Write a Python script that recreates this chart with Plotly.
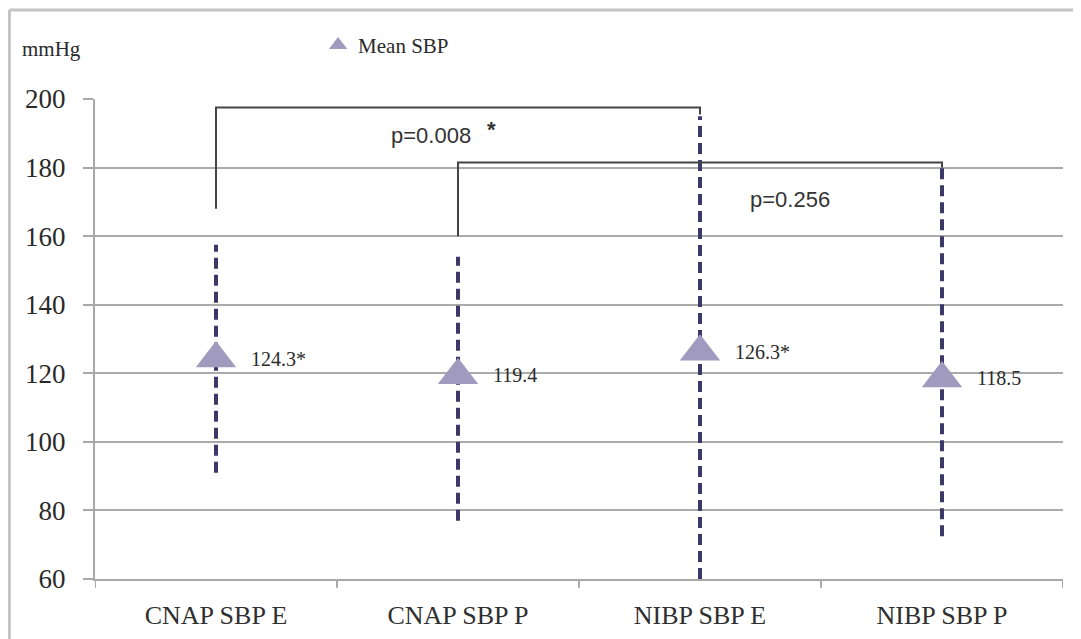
import plotly.graph_objects as go

# ---- data ----
categories = ["CNAP SBP E", "CNAP SBP P", "NIBP SBP E", "NIBP SBP P"]
mean_sbp = [124.3, 119.4, 126.3, 118.5]
mean_labels = ["124.3*", "119.4", "126.3*", "118.5"]
range_low = [91, 77, 60, 72.5]
range_high = [157.5, 154, 195, 180]

# comparison brackets: (left category index, right category index)
bracket_pairs = [(0, 2), (1, 3)]
bracket_top = [197.5, 181.5]
bracket_left_end = [168, 160]
bracket_right_end = [195.5, 180]
p_texts = ["p=0.008", "p=0.256"]
p_pos_x = [0.89, 2.37]
p_pos_y = [189.3, 170.8]

SERIF = "Liberation Serif"
SANS = "Liberation Sans"

fig = go.Figure()

# dashed range lines
wx, wy = [], []
for i, c in enumerate(categories):
    wx += [i, i, None]
    wy += [range_low[i], range_high[i], None]
fig.add_trace(go.Scatter(
    x=wx, y=wy, mode="lines", showlegend=False, hoverinfo="skip",
    line=dict(color="#3c3868", width=4, dash="11px,6px"),
))

# brackets
bx, by = [], []
for k, (a, b) in enumerate(bracket_pairs):
    bx += [a, a, b, b, None]
    by += [bracket_left_end[k], bracket_top[k], bracket_top[k], bracket_right_end[k], None]
fig.add_trace(go.Scatter(
    x=bx, y=by, mode="lines", showlegend=False, hoverinfo="skip",
    line=dict(color="#444444", width=2),
))

# means
fig.add_trace(go.Scatter(
    x=list(range(len(categories))), y=mean_sbp, mode="markers", name="Mean SBP",
    marker=dict(symbol="triangle-up", size=35, color="#a19abf",
                line=dict(width=0)),
))

# value labels
for i, (v, t) in enumerate(zip(mean_sbp, mean_labels)):
    fig.add_annotation(x=i, y=v, text=t, showarrow=False, xanchor="left",
                       yanchor="middle", xshift=33,
                       font=dict(family=SERIF, size=20, color="#2a2a2a"))

# p-values
for t, px, py in zip(p_texts, p_pos_x, p_pos_y):
    fig.add_annotation(x=px, y=py, text=t, showarrow=False,
                       font=dict(family=SANS, size=22, color="#333333"))
fig.add_annotation(x=1.14, y=191.0, text="<b>*</b>", showarrow=False,
                   font=dict(family=SANS, size=22, color="#333333"))

# unit label
fig.add_annotation(xref="paper", yref="paper", x=-0.077, y=1.105,
                   xanchor="left", yanchor="middle", text="mmHg",
                   showarrow=False,
                   font=dict(family=SERIF, size=21, color="#2a2a2a"))

# outer frame (top and left)
fx0 = -0.0885
fy1 = 1.1855
fig.add_shape(type="line", xref="paper", yref="paper", x0=fx0, x1=1.03,
              y0=fy1, y1=fy1, line=dict(color="#c4c4c4", width=3))
fig.add_shape(type="line", xref="paper", yref="paper", x0=fx0, x1=fx0,
              y0=fy1, y1=-0.14, line=dict(color="#c4c4c4", width=3))

fig.update_layout(
    width=1073, height=631,
    margin=dict(l=87, r=18, t=91, b=60, autoexpand=False),
    paper_bgcolor="white", plot_bgcolor="white",
    showlegend=True,
    legend=dict(xref="container", yref="container",
                x=0.289, y=0.941, xanchor="left", yanchor="middle",
                font=dict(family=SERIF, size=21, color="#2a2a2a"),
                bgcolor="rgba(0,0,0,0)"),
    xaxis=dict(
        tickmode="array", tickvals=list(range(len(categories))), ticktext=categories,
        range=[-0.5, len(categories) - 0.5], automargin=False,
        showgrid=False, zeroline=False,
        showline=True, linecolor="#a8a8a8", linewidth=2,
        ticks="",
        tickfont=dict(family=SERIF, size=26, color="#2f2f2f"),
        ticklabelstandoff=12,
    ),
    yaxis=dict(
        range=[60, 200], dtick=20, tick0=60, automargin=False,
        showgrid=True, gridcolor="#ababab", gridwidth=1.6,
        zeroline=False, showline=True, linecolor="#a8a8a8", linewidth=2,
        ticks="outside", ticklen=10, tickcolor="#a8a8a8", tickwidth=2,
        tickfont=dict(family=SERIF, size=27, color="#2a2a2a"),
        ticklabelstandoff=12,
    ),
)

# category boundary ticks on x axis
for b in [i - 0.5 for i in range(len(categories) + 1)]:
    fig.add_shape(type="line", xref="x", yref="paper", x0=b, x1=b, y0=0, y1=-0.018,
                  line=dict(color="#a8a8a8", width=2))

fig.write_html("out.html")
